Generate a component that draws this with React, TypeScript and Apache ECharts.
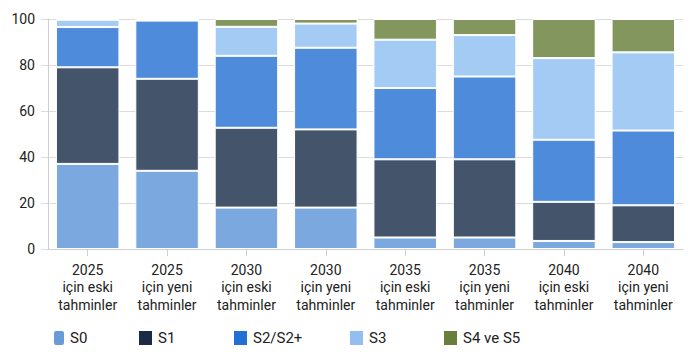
import React, { useEffect, useRef } from "react";
import * as echarts from "echarts";

const categories = [
  "2025\niçin eski\ntahminler",
  "2025\niçin yeni\ntahminler",
  "2030\niçin eski\ntahminler",
  "2030\niçin yeni\ntahminler",
  "2035\niçin eski\ntahminler",
  "2035\niçin yeni\ntahminler",
  "2040\niçin eski\ntahminler",
  "2040\niçin yeni\ntahminler",
];

const seriesNames = ["S0", "S1", "S2/S2+", "S3", "S4 ve S5"];
const s0 = [37, 34, 18, 18, 5, 5, 3.5, 3];
const s1 = [42, 40, 34.7, 34, 34, 34, 17, 16];
const s2 = [17.5, 25.3, 31.3, 35.5, 31, 36, 27, 32.5];
const s3 = [3.2, 0.7, 12.6, 10.5, 21, 18, 35.5, 34];
const s4 = [0.3, 0, 3.4, 2, 9, 7, 17, 14.5];
const yTicks = [0, 20, 40, 60, 80, 100];

const barColors = ["#7ba8de", "#44546b", "#4f8bdb", "#a4cbf3", "#82965d"];
const legendColors = ["#6a9bd9", "#1c2b45", "#2270d4", "#92bff0", "#687f3c"];
const legendLeft = [52, 137, 232, 348, 442];

const FONT = "Roboto, sans-serif";

export default function App() {
  const ref = useRef<HTMLDivElement>(null);
  useEffect(() => {
    if (!ref.current) return;
    const chart = echarts.init(ref.current, undefined, { renderer: "svg" });
    const values = [s0, s1, s2, s3, s4];
    chart.setOption({
      animation: false,
      textStyle: { fontFamily: FONT },
      grid: { left: 48, right: 17, top: 19, bottom: 112, containLabel: false },
      legend: seriesNames.map((name, i) => ({
        data: [{ name, itemStyle: { color: legendColors[i], opacity: 1 } }],
        left: legendLeft[i],
        top: 329,
        itemWidth: i === 0 ? 12 : 15,
        itemHeight: 16,
        itemGap: 10,
        symbolKeepAspect: false,
        icon: i === 0 ? "roundRect" : "rect",
        selectedMode: false,
        padding: 0,
        textStyle: { fontFamily: FONT, fontSize: 15, color: "#222", padding: [0, 0, 0, 0] },
      })),
      xAxis: {
        type: "category",
        data: categories,
        axisLine: { lineStyle: { color: "#cfcfcf" } },
        axisTick: { show: true, alignWithLabel: true, length: 7, lineStyle: { color: "#cfcfcf" } },
        axisLabel: {
          interval: 0,
          margin: 12,
          fontFamily: FONT,
          fontSize: 14,
          lineHeight: 17.5,
          color: "#222",
        },
      },
      yAxis: {
        type: "value",
        min: 0,
        max: 100,
        interval: 20,
        axisLine: { show: true, lineStyle: { color: "#cfcfcf" } },
        axisTick: { show: true, length: 7, lineStyle: { color: "#dcdcdc" } },
        splitLine: { lineStyle: { color: "#dcdcdc" } },
        axisLabel: {
          margin: 13,
          fontFamily: FONT,
          fontSize: 14,
          color: "#222",
          formatter: (v: number) => (yTicks.includes(v) ? String(v) : ""),
        },
      },
      series: seriesNames.map((name, i) => ({
        name,
        type: "bar",
        stack: "total",
        barCategoryGap: "20%",
        data: values[i],
        itemStyle: { color: barColors[i], borderColor: "#fff", borderWidth: 1 },
        emphasis: { disabled: true },
      })),
    });
    return () => chart.dispose();
  }, []);
  return (
    <div
      ref={ref}
      style={{ position: "fixed", left: 0, top: 0, width: 700, height: 361, background: "#fff" }}
    />
  );
}
